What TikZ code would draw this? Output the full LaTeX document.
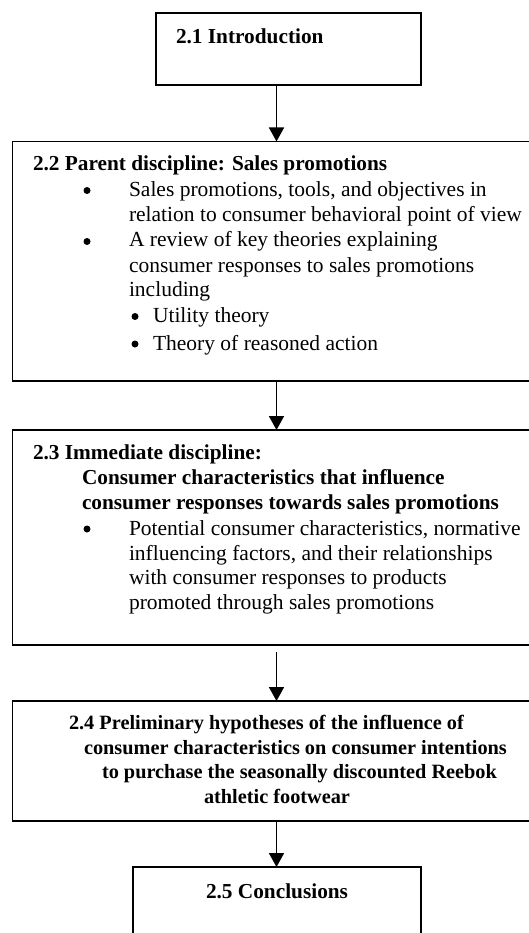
\documentclass[tikz,border=0pt]{standalone}
\usepackage{fontspec}
\setmainfont{Liberation Serif}
\usetikzlibrary{arrows.meta}
\begin{document}
\begin{tikzpicture}[x=1pt,y=-1pt,
  box/.style={draw, line width=1.8pt, inner sep=0pt, outer sep=0pt, anchor=north west},
  txt/.style={anchor=base west, inner sep=0pt, outer sep=0pt, font=\fontsize{21.5}{24.5}\selectfont},
  hd/.style={anchor=base west, inner sep=0pt, outer sep=0pt, font=\fontsize{21.3}{24.5}\selectfont\bfseries},
  hdsm/.style={anchor=base west, inner sep=0pt, outer sep=0pt, font=\fontsize{20.3}{24.5}\selectfont\bfseries},
  dot/.style={circle, fill, inner sep=0pt, outer sep=0pt, minimum size=7pt},
  arr/.style={line width=1.8pt, -{Triangle[width=15pt,length=14pt]}}]
\clip (0,0) rectangle (529,933);
% boxes
\node[box, minimum width=265pt, minimum height=72pt] (b1) at (156,13) {};
\node[box, minimum width=540pt, minimum height=239.5pt] (b2) at (12.5,141.5) {};
\node[box, minimum width=540pt, minimum height=215pt] (b3) at (12.5,430) {};
\node[box, minimum width=540pt, minimum height=120pt] (b4) at (12.5,701) {};
\node[box, minimum width=288pt, minimum height=90pt] (b5) at (133,867) {};
% arrow axis
\coordinate (ax) at (276.5,0);
\draw[arr] (b1.south -| ax) -- (b2.north -| ax);
\draw[arr] (b2.south -| ax) -- (b3.north -| ax);
\draw[arr] ([yshift=-7pt]b3.south -| ax) -- (b4.north -| ax);
\draw[arr] (b4.south -| ax) -- (b5.north -| ax);
% texts box 1
\node[hd] (t1) at (176,44) {2.1 Introduction};
% box 2
\node[hd] (t2) at (33,171) {2.2 Parent discipline: Sales promotions};
\node[dot] (d2a) at (87,190.5) {};
\node[txt] (t2a) at (129,197) {Sales promotions, tools, and objectives in};
\node[txt] (t2b) at (129,222) {relation to consumer behavioral point of view};
\node[dot] (d2b) at (87,241.5) {};
\node[txt] (t2c) at (129,247) {A review of key theories explaining};
\node[txt] (t2d) at (129,272) {consumer responses to sales promotions};
\node[txt] (t2e) at (129,296) {including};
\node[dot] (d2c) at (135,316.5) {};
\node[txt] (t2f) at (153,322) {Utility theory};
\node[dot] (d2d) at (135,344) {};
\node[txt] (t2g) at (153,350) {Theory of reasoned action};
% box 3
\node[hd] (t3) at (33,459) {2.3 Immediate discipline:};
\node[hd] (t3a) at (82,484) {Consumer characteristics that influence};
\node[hd] (t3b) at (82,509) {consumer responses towards sales promotions};
\node[dot] (d3a) at (87,529) {};
\node[txt] (t3c) at (129,535) {Potential consumer characteristics, normative};
\node[txt] (t3d) at (129,560) {influencing factors, and their relationships};
\node[txt] (t3e) at (129,584) {with consumer responses to products};
\node[txt] (t3f) at (129,609) {promoted through sales promotions};
% box 4
\node[hdsm] (t4) at (69,729) {2.4 Preliminary hypotheses of the influence of};
\node[hdsm] (t4a) at (84,754) {consumer characteristics on consumer intentions};
\node[hdsm] (t4b) at (102,778) {to purchase the seasonally discounted Reebok};
\node[hdsm] (t4c) at (204,803) {athletic footwear};
% box 5
\node[hd] (t5) at (206,898) {2.5 Conclusions};
\end{tikzpicture}
\end{document}
